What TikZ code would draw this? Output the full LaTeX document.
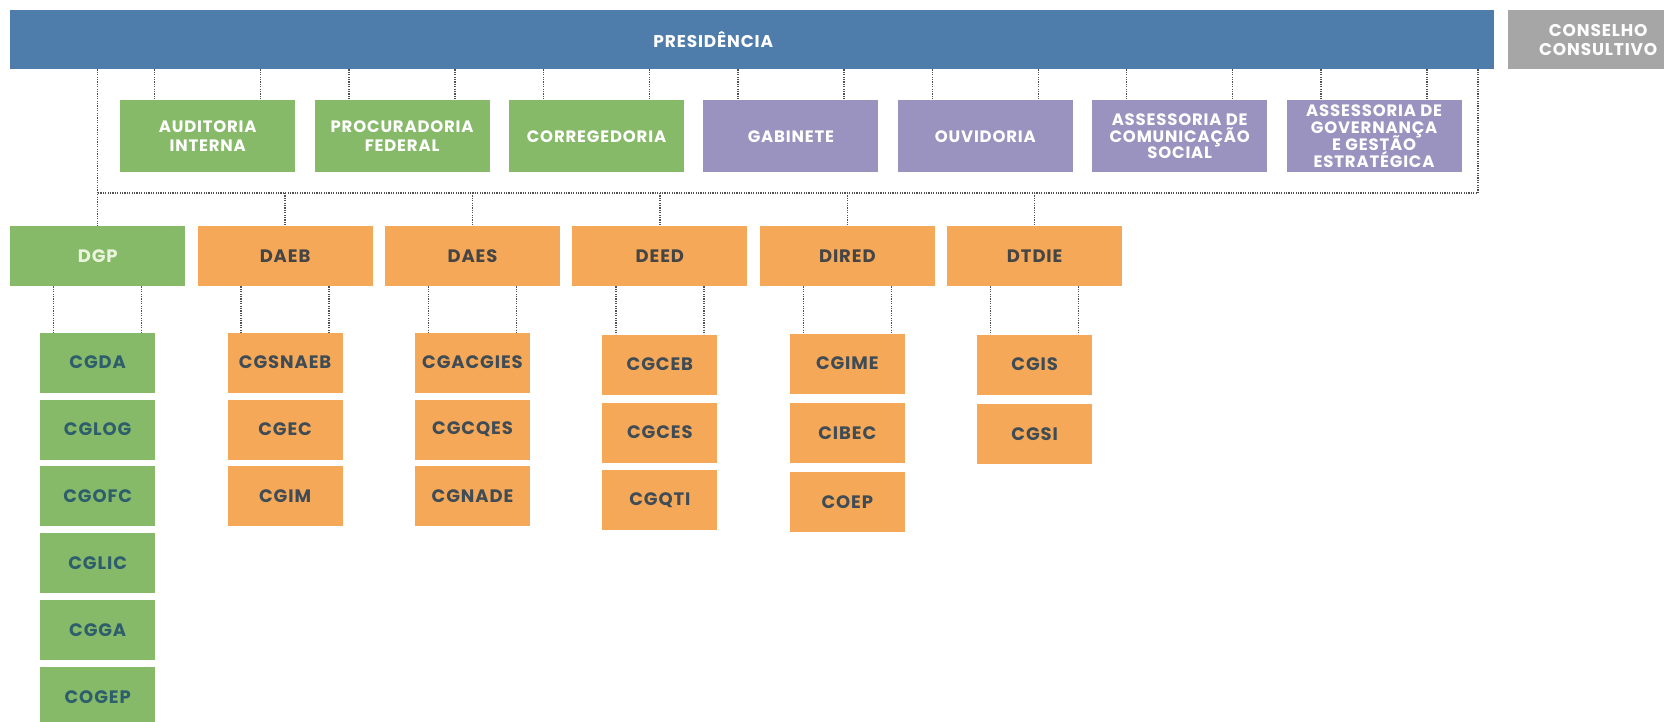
\documentclass[tikz,border=0pt]{standalone}
\usepackage{fontspec}
\setmainfont{Poppins}[LetterSpace=5]
\usetikzlibrary{positioning}

\definecolor{presblue}{HTML}{4E7DAB}
\definecolor{consgray}{HTML}{A6A6A6}
\definecolor{unitgreen}{HTML}{86BA69}
\definecolor{unitpurple}{HTML}{9A93C0}
\definecolor{unitorange}{HTML}{F5A857}
\definecolor{dgptext}{HTML}{EAF3DC}
\definecolor{diretext}{HTML}{454545}
\definecolor{tealtext}{HTML}{2E5E6C}
\definecolor{slatetext}{HTML}{3F4C55}
\definecolor{linegray}{HTML}{505050}

\newcommand{\tightlines}{\lineskiplimit=-20pt\relax}

\begin{document}
\begin{tikzpicture}[
    x=1pt, y=-1pt,
    box/.style={rectangle, inner sep=0pt, align=center, font=\bfseries\fontsize{18}{19}\selectfont, text=white},
    unitbox/.style={box, minimum width=175pt, minimum height=72pt, font=\bfseries\fontsize{16.5}{19}\selectfont},
    smallunit/.style={unitbox, font=\bfseries\fontsize{16.5}{16.8}\selectfont\tightlines},
    dirbox/.style={box, minimum width=175pt, minimum height=60pt, fill=unitorange, text=diretext},
    subbox/.style={box, minimum width=115pt, minimum height=60pt, fill=unitorange, text=slatetext},
    greensub/.style={subbox, fill=unitgreen, text=tealtext},
    link/.style={draw=linegray, line width=1.4pt, dash pattern=on 1.2pt off 1.2pt}
]
\useasboundingbox (0,0) rectangle (1664,721);
\clip (0,0) rectangle (1664,721);

% Presidencia and conselho
\node[box, fill=presblue, minimum width=1484pt, minimum height=59pt, anchor=north west, font=\bfseries\fontsize{17}{19}\selectfont] (presidencia) at (10,10) {PRESIDÊNCIA\hspace*{78pt}};
\node[box, fill=consgray, minimum width=180pt, minimum height=59pt, anchor=north west, font=\bfseries\fontsize{17}{18.7}\selectfont] (conselho) at (1508,10) {CONSELHO\\CONSULTIVO};

% Second row
\node[unitbox, fill=unitgreen, anchor=north west] (auditoria) at (120,100) {AUDITORIA\\INTERNA};
\node[unitbox, fill=unitgreen, right=19pt of auditoria] (procuradoria) {PROCURADORIA\\FEDERAL};
\node[unitbox, fill=unitgreen, right=19pt of procuradoria] (corregedoria) {CORREGEDORIA};
\node[unitbox, fill=unitpurple, right=19pt of corregedoria] (gabinete) {GABINETE};
\node[unitbox, fill=unitpurple, right=19pt of gabinete] (ouvidoria) {OUVIDORIA};
\node[smallunit, fill=unitpurple, right=19pt of ouvidoria] (comunicacao) {ASSESSORIA DE\\COMUNICAÇÃO\\SOCIAL};
\node[smallunit, fill=unitpurple, right=19pt of comunicacao] (governanca) {ASSESSORIA DE\\GOVERNANÇA\\E GESTÃO\\ESTRATÉGICA};

% Diretorias
\node[dirbox, fill=unitgreen, text=dgptext, anchor=north west] (dgp) at (10,226) {DGP};
\node[dirbox, right=12pt of dgp] (daeb) {DAEB};
\node[dirbox, right=12pt of daeb] (daes) {DAES};
\node[dirbox, right=12pt of daes] (deed) {DEED};
\node[dirbox, right=12pt of deed] (dired) {DIRED};
\node[dirbox, right=12pt of dired] (dtdie) {DTDIE};

% DGP
\node[greensub, below=46pt of dgp] (cgda) {CGDA};
\node[greensub, below=6.5pt of cgda] (cglog) {CGLOG};
\node[greensub, below=6.5pt of cglog] (cgofc) {CGOFC};
\node[greensub, below=6.5pt of cgofc] (cglic) {CGLIC};
\node[greensub, below=6.5pt of cglic] (cgga) {CGGA};
\node[greensub, below=6.5pt of cgga] (cogep) {COGEP};

% DAEB
\node[subbox, below=46pt of daeb] (cgsnaeb) {CGSNAEB};
\node[subbox, below=6.5pt of cgsnaeb] (cgec) {CGEC};
\node[subbox, below=6.5pt of cgec] (cgim) {CGIM};

% DAES
\node[subbox, below=46pt of daes] (cgacgies) {CGACGIES};
\node[subbox, below=6.5pt of cgacgies] (cgcqes) {CGCQES};
\node[subbox, below=6.5pt of cgcqes] (cgnade) {CGNADE};

% DEED
\node[subbox, below=48pt of deed] (cgceb) {CGCEB};
\node[subbox, below=7.5pt of cgceb] (cgces) {CGCES};
\node[subbox, below=7.5pt of cgces] (cgqti) {CGQTI};

% DIRED
\node[subbox, below=47pt of dired] (cgime) {CGIME};
\node[subbox, below=9pt of cgime] (cibec) {CIBEC};
\node[subbox, below=9pt of cibec] (coep) {COEP};

% DTDIE
\node[subbox, below=48pt of dtdie] (cgis) {CGIS};
\node[subbox, below=9pt of cgis] (cgsi) {CGSI};

% Links from presidencia
\draw[link] ([xshift=-53pt]auditoria.north |- presidencia.south) -- ([xshift=-53pt]auditoria.north);
\draw[link] ([xshift=53pt]auditoria.north |- presidencia.south) -- ([xshift=53pt]auditoria.north);
\draw[link] ([xshift=-53pt]procuradoria.north |- presidencia.south) -- ([xshift=-53pt]procuradoria.north);
\draw[link] ([xshift=53pt]procuradoria.north |- presidencia.south) -- ([xshift=53pt]procuradoria.north);
\draw[link] ([xshift=-53pt]corregedoria.north |- presidencia.south) -- ([xshift=-53pt]corregedoria.north);
\draw[link] ([xshift=53pt]corregedoria.north |- presidencia.south) -- ([xshift=53pt]corregedoria.north);
\draw[link] ([xshift=-53pt]gabinete.north |- presidencia.south) -- ([xshift=-53pt]gabinete.north);
\draw[link] ([xshift=53pt]gabinete.north |- presidencia.south) -- ([xshift=53pt]gabinete.north);
\draw[link] ([xshift=-53pt]ouvidoria.north |- presidencia.south) -- ([xshift=-53pt]ouvidoria.north);
\draw[link] ([xshift=53pt]ouvidoria.north |- presidencia.south) -- ([xshift=53pt]ouvidoria.north);
\draw[link] ([xshift=-53pt]comunicacao.north |- presidencia.south) -- ([xshift=-53pt]comunicacao.north);
\draw[link] ([xshift=53pt]comunicacao.north |- presidencia.south) -- ([xshift=53pt]comunicacao.north);
\draw[link] ([xshift=-53pt]governanca.north |- presidencia.south) -- ([xshift=-53pt]governanca.north);
\draw[link] ([xshift=53pt]governanca.north |- presidencia.south) -- ([xshift=53pt]governanca.north);

% Bus to diretorias
\coordinate (busR) at (1478,193);
\draw[link] (presidencia.south -| busR) -- (busR) -- (busR -| dgp.north);
\draw[link] (presidencia.south -| dgp.north) -- (dgp.north);
\draw[link] (busR -| daeb.north) -- (daeb.north);
\draw[link] (busR -| daes.north) -- (daes.north);
\draw[link] (busR -| deed.north) -- (deed.north);
\draw[link] (busR -| dired.north) -- (dired.north);
\draw[link] (busR -| dtdie.north) -- (dtdie.north);

% Links to coordenacoes
\draw[link] ([xshift=-44pt]dgp.south) -- ([xshift=-44pt]cgda.north);
\draw[link] ([xshift=44pt]dgp.south) -- ([xshift=44pt]cgda.north);
\draw[link] ([xshift=-44pt]daeb.south) -- ([xshift=-44pt]cgsnaeb.north);
\draw[link] ([xshift=44pt]daeb.south) -- ([xshift=44pt]cgsnaeb.north);
\draw[link] ([xshift=-44pt]daes.south) -- ([xshift=-44pt]cgacgies.north);
\draw[link] ([xshift=44pt]daes.south) -- ([xshift=44pt]cgacgies.north);
\draw[link] ([xshift=-44pt]deed.south) -- ([xshift=-44pt]cgceb.north);
\draw[link] ([xshift=44pt]deed.south) -- ([xshift=44pt]cgceb.north);
\draw[link] ([xshift=-44pt]dired.south) -- ([xshift=-44pt]cgime.north);
\draw[link] ([xshift=44pt]dired.south) -- ([xshift=44pt]cgime.north);
\draw[link] ([xshift=-44pt]dtdie.south) -- ([xshift=-44pt]cgis.north);
\draw[link] ([xshift=44pt]dtdie.south) -- ([xshift=44pt]cgis.north);

\end{tikzpicture}
\end{document}
